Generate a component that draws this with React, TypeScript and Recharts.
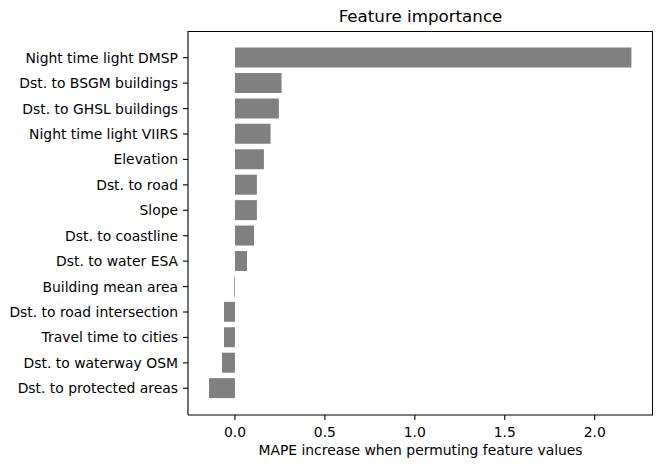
import React from 'react';
import { BarChart, Bar, XAxis, YAxis } from 'recharts';

const features = [
  'Night time light DMSP',
  'Dst. to BSGM buildings',
  'Dst. to GHSL buildings',
  'Night time light VIIRS',
  'Elevation',
  'Dst. to road',
  'Slope',
  'Dst. to coastline',
  'Dst. to water ESA',
  'Building mean area',
  'Dst. to road intersection',
  'Travel time to cities',
  'Dst. to waterway OSM',
  'Dst. to protected areas',
];

const importance = [
  2.204, 0.259, 0.244, 0.198, 0.161, 0.122, 0.122, 0.106, 0.067, -0.004, -0.061, -0.061, -0.072, -0.144,
];

const xTicks = [0, 0.5, 1, 1.5, 2];

const data = features.map((name, i) => ({ name, value: importance[i] }));

const font = 'DejaVu Sans';

export default function App() {
  return (
    <div style={{ position: 'absolute', left: 0, top: 0, width: 663, height: 468, background: '#fff', fontFamily: font }}>
      <div
        style={{
          position: 'absolute',
          left: 188,
          width: 465,
          top: 8,
          textAlign: 'center',
          fontSize: 16.7,
          lineHeight: 1,
          color: '#000',
        }}
      >
        Feature importance
      </div>
      <BarChart
        width={663}
        height={468}
        data={data}
        layout="vertical"
        margin={{ top: 31, right: 10, bottom: 0, left: 0 }}
        barCategoryGap="10%"
      >
        <XAxis
          type="number"
          domain={[-0.261, 2.324]}
          ticks={xTicks}
          allowDataOverflow
          tickFormatter={(v: number) => v.toFixed(1)}
          tick={{ fill: '#000', fontSize: 13.9, fontFamily: font }}
          tickSize={5}
          tickMargin={7}
          height={53}
          axisLine={{ stroke: '#000', strokeWidth: 1.1 }}
          tickLine={{ stroke: '#000', strokeWidth: 1.1 }}
        />
        <YAxis
          type="category"
          dataKey="name"
          width={188}
          padding={{ top: 14, bottom: 14 }}
          tick={{ fill: '#000', fontSize: 13.9, fontFamily: font }}
          tickSize={5}
          tickMargin={5}
          interval={0}
          axisLine={{ stroke: '#000', strokeWidth: 1.1 }}
          tickLine={{ stroke: '#000', strokeWidth: 1.1 }}
        />
        <Bar dataKey="value" fill="#808080" isAnimationActive={false} />
      </BarChart>
      {/* top and right spines */}
      <div
        style={{
          position: 'absolute',
          left: 188,
          top: 30.5,
          width: 465,
          height: 384,
          borderTop: '1px solid #000',
          borderRight: '1px solid #000',
          boxSizing: 'border-box',
          pointerEvents: 'none',
        }}
      />
      <div
        style={{
          position: 'absolute',
          left: 188,
          width: 465,
          top: 444,
          textAlign: 'center',
          fontSize: 13.9,
          lineHeight: 1,
          color: '#000',
        }}
      >
        MAPE increase when permuting feature values
      </div>
    </div>
  );
}
